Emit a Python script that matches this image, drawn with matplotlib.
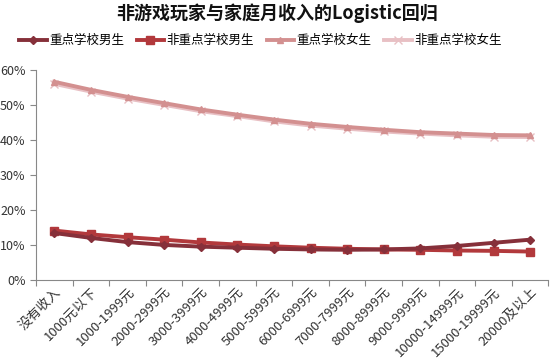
import matplotlib
matplotlib.use('Agg')
import matplotlib.pyplot as plt
from matplotlib.ticker import FuncFormatter

plt.rcParams['font.family'] = ['Noto Sans CJK SC', 'DejaVu Sans']

categories = ['没有收入', '1000元以下', '1000-1999元', '2000-2999元', '3000-3999元',
              '4000-4999元', '5000-5999元', '6000-6999元', '7000-7999元', '8000-8999元',
              '9000-9999元', '10000-14999元', '15000-19999元', '20000及以上']

key_male = [13.4, 12.0, 10.8, 10.0, 9.5, 9.2, 8.9, 8.7, 8.6, 8.7, 9.0, 9.7, 10.6, 11.5]
nonkey_male = [14.1, 13.0, 12.2, 11.5, 10.7, 10.1, 9.6, 9.2, 8.9, 8.7, 8.6, 8.4, 8.3, 8.1]
key_female = [56.6, 54.3, 52.3, 50.5, 48.7, 47.2, 45.8, 44.6, 43.7, 42.9, 42.2, 41.8, 41.4, 41.3]
nonkey_female = [56.0, 53.8, 51.8, 50.0, 48.2, 46.8, 45.3, 44.1, 43.2, 42.4, 41.8, 41.3, 40.9, 40.8]

fig = plt.figure(figsize=(5.54, 3.64), dpi=100)
ax = fig.add_axes([0.065, 0.231, 0.925, 0.577])

x = list(range(len(categories)))
ax.plot(x, nonkey_female, color='#e8c0c4', marker='x', markersize=6, lw=2.8, label='非重点学校女生', zorder=2)
ax.plot(x, key_female, color='#d39090', marker='^', markersize=5, lw=2.8, label='重点学校女生', zorder=3)
ax.plot(x, nonkey_male, color='#b2393c', marker='s', markersize=6, lw=2.8, label='非重点学校男生', zorder=4)
ax.plot(x, key_male, color='#86303a', marker='D', markersize=4.5, lw=2.8, label='重点学校男生', zorder=5)

ax.set_ylim(0, 60)
ax.set_yticks(range(0, 61, 10))
ax.yaxis.set_major_formatter(FuncFormatter(lambda v, p: f'{int(v)}%'))
ax.set_xlim(-0.5, len(categories) - 0.5)
ax.set_xticks([i - 0.5 for i in range(len(categories) + 1)])
ax.set_xticklabels([])
ax.set_xticks(x, minor=True)
ax.set_xticklabels(categories, minor=True, rotation=45, ha='right', rotation_mode='anchor', fontsize=9.5, color='#333333')
ax.tick_params(axis='x', which='minor', length=0, pad=4)
ax.tick_params(axis='x', which='major', length=4, color='#888888', direction='out')
ax.tick_params(axis='y', length=4, color='#888888', labelsize=9, labelcolor='#333333')
for s in ['top', 'right']:
    ax.spines[s].set_visible(False)
for s in ['left', 'bottom']:
    ax.spines[s].set_color('#888888')

fig.text(0.5, 0.965, '非游戏玩家与家庭月收入的Logistic回归', ha='center', va='center',
         fontsize=13, fontweight='bold', color='#111111')

handles, labels = ax.get_legend_handles_labels()
order = [3, 2, 1, 0]
fig.legend([handles[i] for i in order], [labels[i] for i in order], loc='center',
           bbox_to_anchor=(0.47, 0.888), ncol=4, frameon=False, fontsize=9,
           handlelength=2.2, columnspacing=1.0, handletextpad=0.2)

fig.savefig('out.png', dpi=100)
